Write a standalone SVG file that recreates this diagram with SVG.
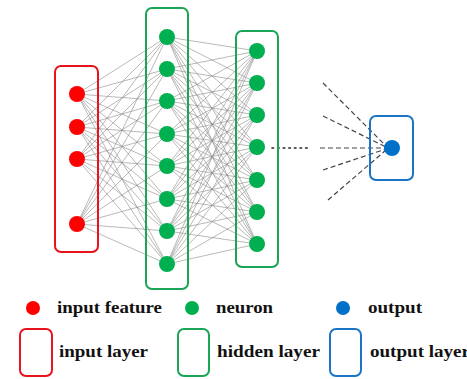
<svg xmlns="http://www.w3.org/2000/svg" width="467" height="379" viewBox="0 0 467 379">
<style>
.box{fill:none;stroke-width:2;}
.r{stroke:#e8141c}.g{stroke:#1aa656}.b{stroke:#1c74c4}
.nr{fill:#ff0000}.ng{fill:#00b050}.nb{fill:#0070c8}
.c line{stroke:#8a8a8a;stroke-width:0.6}
.d line{stroke:#444;stroke-width:1.2;stroke-dasharray:5 3}
text{font-family:"Liberation Serif",serif;font-weight:bold;font-size:16px;fill:#111}
</style>
<rect width="467" height="379" fill="#fff"/>
<g id="connectors" class="c">
<line x1="77" y1="94" x2="167" y2="37"/><line x1="77" y1="94" x2="167" y2="69"/><line x1="77" y1="94" x2="167" y2="101"/><line x1="77" y1="94" x2="167" y2="134"/><line x1="77" y1="94" x2="167" y2="166"/><line x1="77" y1="94" x2="167" y2="199"/><line x1="77" y1="94" x2="167" y2="231"/><line x1="77" y1="94" x2="167" y2="264"/>
<line x1="77" y1="127" x2="167" y2="37"/><line x1="77" y1="127" x2="167" y2="69"/><line x1="77" y1="127" x2="167" y2="101"/><line x1="77" y1="127" x2="167" y2="134"/><line x1="77" y1="127" x2="167" y2="166"/><line x1="77" y1="127" x2="167" y2="199"/><line x1="77" y1="127" x2="167" y2="231"/><line x1="77" y1="127" x2="167" y2="264"/>
<line x1="77" y1="159" x2="167" y2="37"/><line x1="77" y1="159" x2="167" y2="69"/><line x1="77" y1="159" x2="167" y2="101"/><line x1="77" y1="159" x2="167" y2="134"/><line x1="77" y1="159" x2="167" y2="166"/><line x1="77" y1="159" x2="167" y2="199"/><line x1="77" y1="159" x2="167" y2="231"/><line x1="77" y1="159" x2="167" y2="264"/>
<line x1="77" y1="224" x2="167" y2="37"/><line x1="77" y1="224" x2="167" y2="69"/><line x1="77" y1="224" x2="167" y2="101"/><line x1="77" y1="224" x2="167" y2="134"/><line x1="77" y1="224" x2="167" y2="166"/><line x1="77" y1="224" x2="167" y2="199"/><line x1="77" y1="224" x2="167" y2="231"/><line x1="77" y1="224" x2="167" y2="264"/>
<line x1="167" y1="37" x2="257" y2="51"/><line x1="167" y1="37" x2="257" y2="83"/><line x1="167" y1="37" x2="257" y2="115"/><line x1="167" y1="37" x2="257" y2="147"/><line x1="167" y1="37" x2="257" y2="180"/><line x1="167" y1="37" x2="257" y2="212"/><line x1="167" y1="37" x2="257" y2="244"/>
<line x1="167" y1="69" x2="257" y2="51"/><line x1="167" y1="69" x2="257" y2="83"/><line x1="167" y1="69" x2="257" y2="115"/><line x1="167" y1="69" x2="257" y2="147"/><line x1="167" y1="69" x2="257" y2="180"/><line x1="167" y1="69" x2="257" y2="212"/><line x1="167" y1="69" x2="257" y2="244"/>
<line x1="167" y1="101" x2="257" y2="51"/><line x1="167" y1="101" x2="257" y2="83"/><line x1="167" y1="101" x2="257" y2="115"/><line x1="167" y1="101" x2="257" y2="147"/><line x1="167" y1="101" x2="257" y2="180"/><line x1="167" y1="101" x2="257" y2="212"/><line x1="167" y1="101" x2="257" y2="244"/>
<line x1="167" y1="134" x2="257" y2="51"/><line x1="167" y1="134" x2="257" y2="83"/><line x1="167" y1="134" x2="257" y2="115"/><line x1="167" y1="134" x2="257" y2="147"/><line x1="167" y1="134" x2="257" y2="180"/><line x1="167" y1="134" x2="257" y2="212"/><line x1="167" y1="134" x2="257" y2="244"/>
<line x1="167" y1="166" x2="257" y2="51"/><line x1="167" y1="166" x2="257" y2="83"/><line x1="167" y1="166" x2="257" y2="115"/><line x1="167" y1="166" x2="257" y2="147"/><line x1="167" y1="166" x2="257" y2="180"/><line x1="167" y1="166" x2="257" y2="212"/><line x1="167" y1="166" x2="257" y2="244"/>
<line x1="167" y1="199" x2="257" y2="51"/><line x1="167" y1="199" x2="257" y2="83"/><line x1="167" y1="199" x2="257" y2="115"/><line x1="167" y1="199" x2="257" y2="147"/><line x1="167" y1="199" x2="257" y2="180"/><line x1="167" y1="199" x2="257" y2="212"/><line x1="167" y1="199" x2="257" y2="244"/>
<line x1="167" y1="231" x2="257" y2="51"/><line x1="167" y1="231" x2="257" y2="83"/><line x1="167" y1="231" x2="257" y2="115"/><line x1="167" y1="231" x2="257" y2="147"/><line x1="167" y1="231" x2="257" y2="180"/><line x1="167" y1="231" x2="257" y2="212"/><line x1="167" y1="231" x2="257" y2="244"/>
<line x1="167" y1="264" x2="257" y2="51"/><line x1="167" y1="264" x2="257" y2="83"/><line x1="167" y1="264" x2="257" y2="115"/><line x1="167" y1="264" x2="257" y2="147"/><line x1="167" y1="264" x2="257" y2="180"/><line x1="167" y1="264" x2="257" y2="212"/><line x1="167" y1="264" x2="257" y2="244"/>
</g>
<g id="output-connectors" class="d">
<line x1="323" y1="83" x2="386" y2="146"/>
<line x1="323" y1="116" x2="386" y2="147"/>
<line x1="320" y1="148" x2="386" y2="148"/>
<line x1="323" y1="170" x2="386" y2="149"/>
<line x1="328" y1="200" x2="386" y2="150"/>
</g>
<line id="ellipsis" x1="272" y1="148" x2="310" y2="148" stroke="#222" stroke-width="1.6" stroke-dasharray="1.6 4" stroke-linecap="round"/>
<g id="input-layer">
<rect class="box r" x="55" y="66" width="43" height="186" rx="6"/>
<circle class="nr" cx="77" cy="94" r="8"/><circle class="nr" cx="77" cy="127" r="8"/><circle class="nr" cx="77" cy="159" r="8"/><circle class="nr" cx="77" cy="224" r="8"/>
</g>
<g id="hidden-layer-1">
<rect class="box g" x="146" y="8" width="42" height="281" rx="6"/>
<circle class="ng" cx="167" cy="37" r="8"/><circle class="ng" cx="167" cy="69" r="8"/><circle class="ng" cx="167" cy="101" r="8"/><circle class="ng" cx="167" cy="134" r="8"/><circle class="ng" cx="167" cy="166" r="8"/><circle class="ng" cx="167" cy="199" r="8"/><circle class="ng" cx="167" cy="231" r="8"/><circle class="ng" cx="167" cy="264" r="8"/>
</g>
<g id="hidden-layer-2">
<rect class="box g" x="236" y="31" width="42" height="236" rx="6"/>
<circle class="ng" cx="257" cy="51" r="8"/><circle class="ng" cx="257" cy="83" r="8"/><circle class="ng" cx="257" cy="115" r="8"/><circle class="ng" cx="257" cy="147" r="8"/><circle class="ng" cx="257" cy="180" r="8"/><circle class="ng" cx="257" cy="212" r="8"/><circle class="ng" cx="257" cy="244" r="8"/>
</g>
<g id="output-layer">
<rect class="box b" x="370" y="116" width="43" height="64" rx="6"/>
<circle class="nb" cx="392" cy="148" r="8"/>
</g>
<g id="legend">
<circle class="nr" cx="33" cy="308" r="7"/><text x="57" y="313" textLength="105" lengthAdjust="spacingAndGlyphs">input feature</text>
<circle class="ng" cx="192" cy="308" r="7"/><text x="216" y="313" textLength="57" lengthAdjust="spacingAndGlyphs">neuron</text>
<circle class="nb" cx="343" cy="308" r="7"/><text x="368" y="313" textLength="54" lengthAdjust="spacingAndGlyphs">output</text>
<rect class="box r" x="20" y="329" width="32" height="47" rx="6"/><text x="59" y="357" textLength="89" lengthAdjust="spacingAndGlyphs">input layer</text>
<rect class="box g" x="178" y="329" width="31" height="47" rx="6"/><text x="217" y="357" textLength="103" lengthAdjust="spacingAndGlyphs">hidden layer</text>
<rect class="box b" x="330" y="329" width="31" height="47" rx="6"/><text x="370" y="357" textLength="100" lengthAdjust="spacingAndGlyphs">output layer</text>
</g>
</svg>
